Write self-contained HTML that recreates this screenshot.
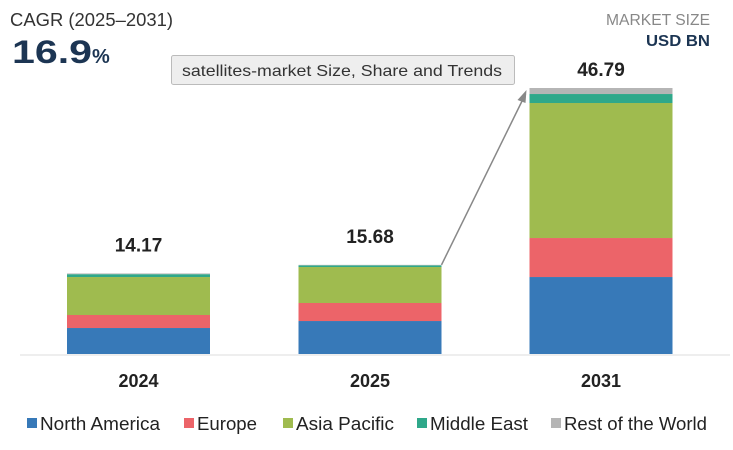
<!DOCTYPE html>
<html><head><meta charset="utf-8"><style>
html,body{margin:0;padding:0;background:#fff;width:733px;height:450px;overflow:hidden}
svg text{font-family:"Liberation Sans",sans-serif}
</style></head><body>
<svg id="chart" width="733" height="450" xmlns="http://www.w3.org/2000/svg">
<text x="10" y="26" font-size="18" fill="#333" textLength="163" lengthAdjust="spacingAndGlyphs">CAGR (2025–2031)</text>
<text x="12" y="63" font-size="32" font-weight="bold" fill="#1c3553" textLength="80" lengthAdjust="spacingAndGlyphs">16.9</text>
<text x="92" y="63" font-size="20" font-weight="bold" fill="#1c3553">%</text>
<text x="710" y="25" font-size="16" fill="#888" text-anchor="end" textLength="104" lengthAdjust="spacingAndGlyphs">MARKET SIZE</text>
<text x="710" y="46" font-size="16" font-weight="bold" fill="#1c3553" text-anchor="end" textLength="64" lengthAdjust="spacingAndGlyphs">USD BN</text>
<rect x="171.5" y="55.5" width="343" height="29" fill="#eeeeee" stroke="#bbb" rx="2"/>
<text x="182" y="76" font-size="16" fill="#333" textLength="320" lengthAdjust="spacingAndGlyphs">satellites-market Size, Share and Trends</text>
<line x1="20" y1="355" x2="730" y2="355" stroke="#ddd" stroke-width="1"/>
<g id="bars"></g>
<g id="legend"></g>
</svg>
<script>
const years = ["2024","2025","2031"];
const totals = ["14.17","15.68","46.79"];
const northAmerica = [4.57, 5.80, 13.54];
const europe = [2.29, 3.17, 6.86];
const asiaPacific = [6.68, 6.33, 23.75];
const middleEast = [0.50, 0.30, 1.58];
const restOfWorld = [0.13, 0.08, 1.06];
const seriesNames = ["North America","Europe","Asia Pacific","Middle East","Rest of the World"];
const NS="http://www.w3.org/2000/svg";
const series=[northAmerica,europe,asiaPacific,middleEast,restOfWorld];
const colors=["#3779b8","#ec6469","#9fbb4f","#2fa88a","#b5b5b5"];
const baseY=354, plotTop=88, barW=143;
const maxTotal=Math.max(...years.map((_,i)=>series.reduce((s,a)=>s+a[i],0)));
const yScale=v=>v*(baseY-plotTop)/maxTotal;
const xCenter=i=>[138.5,370,601][i];
const g=document.getElementById('bars');
const tops=[];
years.forEach((yr,i)=>{
  let acc=0;
  series.forEach((arr,s)=>{
    const h=yScale(arr[i]);
    const r=document.createElementNS(NS,'rect');
    r.setAttribute('x',xCenter(i)-barW/2);
    r.setAttribute('y',baseY-yScale(acc)-h);
    r.setAttribute('width',barW);
    r.setAttribute('height',h);
    r.setAttribute('fill',colors[s]);
    
    
    g.appendChild(r);
    acc+=arr[i];
  });
  const top=baseY-yScale(acc); tops.push(top);
  const t=document.createElementNS(NS,'text');
  t.setAttribute('x',xCenter(i));t.setAttribute('y',top-(i==2?12:22));
  t.setAttribute('text-anchor','middle');t.setAttribute('font-size','19');t.setAttribute('font-weight','bold');t.setAttribute('fill','#222');
  t.textContent=totals[i];
  
  
  g.appendChild(t);
  const xl=document.createElementNS(NS,'text');
  xl.setAttribute('x',xCenter(i));xl.setAttribute('y',387);
  xl.setAttribute('text-anchor','middle');xl.setAttribute('font-size','18');xl.setAttribute('font-weight','bold');xl.setAttribute('fill','#222');
  xl.textContent=yr;
  
  
  g.appendChild(xl);
});
// growth arrow
const ln=document.createElementNS(NS,'line');
ln.setAttribute('x1',xCenter(1)+barW/2);ln.setAttribute('y1',tops[1]);
ln.setAttribute('x2',xCenter(2)-barW/2-4);ln.setAttribute('y2',tops[2]+6);
ln.setAttribute('stroke','#888');ln.setAttribute('stroke-width','1.5');


g.appendChild(ln);
const ah=document.createElementNS(NS,'polygon');
const ax=xCenter(2)-barW/2-3, ay=tops[2]+2;
ah.setAttribute('points',`${ax},${ay} ${ax-9},${ay+10} ${ax-1},${ay+13}`);
ah.setAttribute('fill','#888');


g.appendChild(ah);
// legend
const lg=document.getElementById('legend');
const lx=[27,184,283,417,551], lw=[120,60,98,98,143];
seriesNames.forEach((n,s)=>{
  const sq=document.createElementNS(NS,'rect');
  sq.setAttribute('x',lx[s]);sq.setAttribute('y',418);sq.setAttribute('width',10);sq.setAttribute('height',10);sq.setAttribute('fill',colors[s]);
  
  
  lg.appendChild(sq);
  const t=document.createElementNS(NS,'text');
  t.setAttribute('x',lx[s]+13);t.setAttribute('y',430);t.setAttribute('font-size','18');t.setAttribute('fill','#222');
  t.setAttribute('textLength',lw[s]);t.setAttribute('lengthAdjust','spacingAndGlyphs');
  t.textContent=n;
  
  
  lg.appendChild(t);
});
</script>
</body></html>
